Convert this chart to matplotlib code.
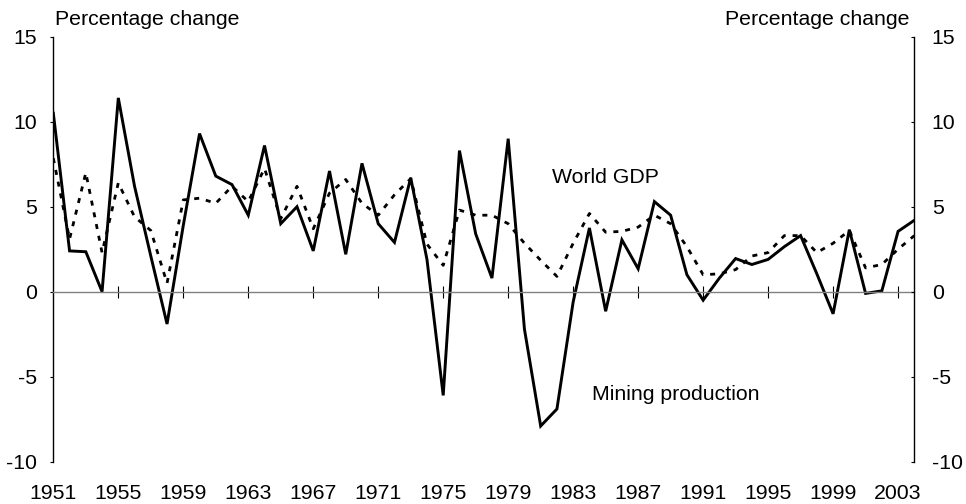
import matplotlib
matplotlib.use("Agg")
import matplotlib.pyplot as plt

plt.rcParams['font.family'] = ['Liberation Sans', 'DejaVu Sans']
plt.rcParams['font.size'] = 15.3
plt.rcParams['axes.unicode_minus'] = False

# Annual data, 1951-2004 (percentage change)
years = list(range(1951, 2005))
mining = [10.5, 2.4, 2.35, 0.0, 11.4, 6.2, 2.1, -1.9, 3.9, 9.3,
          6.8, 6.3, 4.5, 8.6, 4.0, 5.0, 2.4, 7.1, 2.2, 7.55,
          4.0, 2.9, 6.7, 1.9, -6.1, 8.3, 3.4, 0.8, 9.0, -2.2,
          -7.9, -6.9, -0.6, 3.75, -1.15, 3.05, 1.35, 5.3, 4.5, 1.0,
          -0.5, 0.8, 1.95, 1.6, 1.9, 2.65, 3.3, 1.05, -1.3, 3.65,
          -0.1, 0.05, 3.55, 4.2]
world_gdp = [7.85, 3.1, 7.0, 2.3, 6.4, 4.4, 3.6, 0.5, 5.4, 5.5,
             5.2, 6.2, 5.3, 7.25, 4.3, 6.2, 3.7, 5.8, 6.6, 5.2,
             4.5, 5.7, 6.65, 2.8, 1.55, 4.8, 4.5, 4.5, 4.0, 2.85,
             1.85, 0.9, 2.85, 4.6, 3.5, 3.55, 3.8, 4.5, 4.0, 2.65,
             1.0, 1.05, 1.3, 2.1, 2.3, 3.3, 3.3, 2.3, 2.85, 3.6,
             1.4, 1.6, 2.5, 3.3]
label_years = list(range(1951, 2004, 4))
y_ticks = [-10, -5, 0, 5, 10, 15]

fig = plt.figure(figsize=(9.66, 5.04), dpi=100)
ax = fig.add_axes([0.0552, 0.0839, 0.8913, 0.8433])

ax.plot(years, world_gdp, color='black', lw=2.0, linestyle=(0, (1.8, 2.5)))
ax.plot(years, mining, color='black', lw=2.1, solid_joinstyle='miter')

ax.set_xlim(1951, 2004)
ax.set_ylim(-10, 15)

# x axis sits on zero, ticks crossing it
ax.spines['top'].set_visible(False)
ax.spines['right'].set_visible(False)
ax.spines['bottom'].set_position(('data', 0))
ax.spines['bottom'].set_color('#808080')
ax.spines['bottom'].set_linewidth(1.0)
ax.spines['left'].set_linewidth(1.0)
ax.set_xticks(label_years[1:])
ax.tick_params(axis='x', direction='inout', length=8.6, width=0.8,
               labelbottom=False)
ax.set_yticks(y_ticks)
ax.tick_params(axis='y', direction='out', length=2.5, width=0.8, pad=9.5)

# year labels at the bottom of the frame
sec = ax.secondary_xaxis(0)
sec.set_xticks(label_years)
sec.tick_params(length=0, pad=16)
sec.spines['bottom'].set_visible(False)

# right axis
ax2 = ax.twinx()
ax2.set_ylim(-10, 15)
ax2.set_yticks(y_ticks)
for s in ['top', 'bottom', 'left']:
    ax2.spines[s].set_visible(False)
ax2.spines['right'].set_linewidth(1.0)
ax2.tick_params(axis='y', direction='in', length=2.5, width=0.8, pad=12.5)

fig.text(0.057, 0.951, 'Percentage change', ha='left', va='baseline')
fig.text(0.9413, 0.951, 'Percentage change', ha='right', va='baseline')

ax.text(1981.67, 6.39, 'World GDP', ha='left', va='baseline')
ax.text(1984.13, -6.37, 'Mining production', ha='left', va='baseline')

fig.savefig('out.png', dpi=100)
